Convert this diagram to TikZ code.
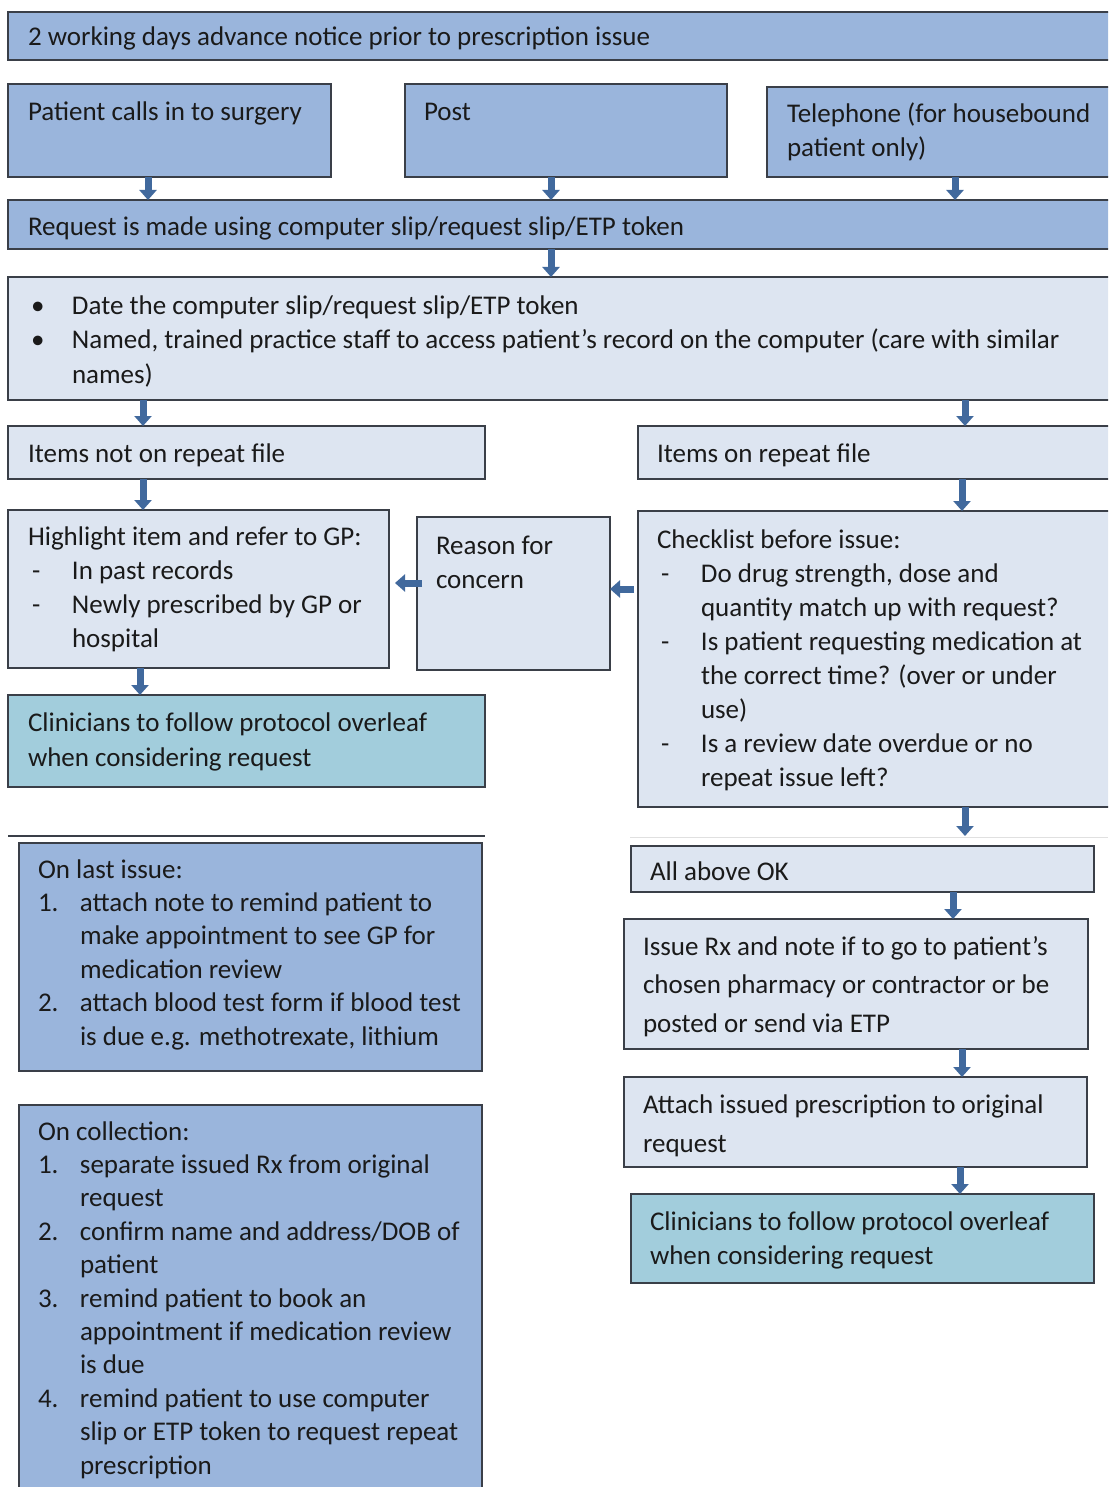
\documentclass[tikz,border=0pt]{standalone}
\usepackage{fontspec}
\setmainfont{Carlito}
\usetikzlibrary{arrows.meta,calc}
\definecolor{boxdark}{HTML}{9AB5DC}
\definecolor{boxlight}{HTML}{DDE5F1}
\definecolor{boxteal}{HTML}{A2CDDC}
\definecolor{bordercol}{HTML}{3A3F48}
\definecolor{textcol}{HTML}{1A1A1A}
\definecolor{arrowcol}{HTML}{41699D}
\newcommand\txtlines[1]{\begin{tabular}[t]{@{}l@{}}#1\end{tabular}}
\newcommand\mk[2]{\makebox[#1][l]{#2}}
\begin{document}
\begin{tikzpicture}[x=1pt,y=-1pt,
  box/.style={draw=bordercol, line width=2pt, anchor=north west, inner sep=0pt, outer sep=0pt},
  dark/.style={box, fill=boxdark},
  light/.style={box, fill=boxlight},
  teal/.style={box, fill=boxteal},
  txt/.style={anchor=base west, inner sep=0pt, outer sep=0pt, text=textcol, font=\fontsize{27}{33.5}\selectfont},
  arr/.style={draw=arrowcol, line width=7pt, -{Triangle[width=17pt,length=10pt]}}]
\useasboundingbox (0,0) rectangle (1108,1487);
\clip (0,0) rectangle (1108,1487);
\fill[white] (0,0) rectangle (1108,1487);

% boxes
\node[dark, minimum width=1112pt, minimum height=48pt] (top) at (8,12) {};
\node[dark, minimum width=323pt, minimum height=93pt] (patient) at (8,84) {};
\node[dark, minimum width=322pt, minimum height=93pt] (post) at (405,84) {};
\node[dark, minimum width=353pt, minimum height=90pt] (tel) at (767,87) {};
\node[dark, minimum width=1112pt, minimum height=49pt] (request) at (8,200) {};
\node[light, minimum width=1112pt, minimum height=123pt] (bullets) at (8,277) {};
\node[light, minimum width=477pt, minimum height=53pt] (notrep) at (8,426) {};
\node[light, minimum width=482pt, minimum height=53pt] (rep) at (638,426) {};
\node[light, minimum width=381pt, minimum height=158pt] (highlight) at (8,510) {};
\node[light, minimum width=193pt, minimum height=153pt] (reason) at (417,517) {};
\node[light, minimum width=482pt, minimum height=296pt] (check) at (638,511) {};
\node[teal, minimum width=477pt, minimum height=92pt] (clinL) at (8,695) {};
\node[dark, minimum width=463pt, minimum height=228pt] (last) at (19,843) {};
\node[dark, minimum width=463pt, minimum height=400pt] (coll) at (19,1105) {};
\node[light, minimum width=463pt, minimum height=46pt] (allok) at (631,846) {};
\node[light, minimum width=464pt, minimum height=130pt] (issue) at (624,919) {};
\node[light, minimum width=463pt, minimum height=90pt] (attach) at (624,1077) {};
\node[teal, minimum width=463pt, minimum height=89pt] (clinR) at (631,1194) {};

% separator lines
\draw[line width=1.5pt, color=bordercol] (8,836) -- (485,836);
\draw[line width=1pt, color=black!12] (630,837) -- (1108,837);

% texts
\node[txt] (ttop) at (28,46) {2 working days advance notice prior to prescription issue};
\node[txt] (tpatient) at (28,121) {Patient calls in to surgery};
\node[txt] (tpost) at (424,121) {Post};
\node[txt] (ttel) at (787,123) {\txtlines{Telephone (for housebound\\patient only)}};
\node[txt] (trequest) at (28,236) {Request is made using computer slip/request slip/ETP token};
\node[txt, font=\fontsize{27}{35}\selectfont] (tbullets) at (28,314) {\txtlines{%
  \mk{44pt}{\hspace{3pt}•}Date the computer slip/request slip/ETP token\\
  \mk{44pt}{\hspace{3pt}•}Named, trained practice staff to access patient’s record on the computer (care with similar\\
  \mk{44pt}{}names)}};
\node[txt] (tnotrep) at (28,462) {Items not on repeat file};
\node[txt] (trep) at (657,462) {Items on repeat file};
\node[txt, font=\fontsize{27}{34.3}\selectfont] (thighlight) at (28,545) {\txtlines{%
  Highlight item and refer to GP:\\
  \mk{44pt}{\hspace{4pt}-}In past records\\
  \mk{44pt}{\hspace{4pt}-}Newly prescribed by GP or\\
  \mk{44pt}{}hospital}};
\node[txt, font=\fontsize{27}{34}\selectfont] (treason) at (436,554) {\txtlines{Reason for\\concern}};
\node[txt, font=\fontsize{27}{34.1}\selectfont] (tcheck) at (657,548) {\txtlines{%
  Checklist before issue:\\
  \mk{44pt}{\hspace{4pt}-}Do drug strength, dose and\\
  \mk{44pt}{}quantity match up with request?\\
  \mk{44pt}{\hspace{4pt}-}Is patient requesting medication at\\
  \mk{44pt}{}the correct time? (over or under\\
  \mk{44pt}{}use)\\
  \mk{44pt}{\hspace{4pt}-}Is a review date overdue or no\\
  \mk{44pt}{}repeat issue left?}};
\node[txt, font=\fontsize{27}{35}\selectfont] (tclinL) at (28,731) {\txtlines{Clinicians to follow protocol overleaf\\when considering request}};
\node[txt, font=\fontsize{27}{33.4}\selectfont] (tlast) at (38,878) {\txtlines{%
  On last issue:\\
  \mk{42pt}{1.}attach note to remind patient to\\
  \mk{42pt}{}make appointment to see GP for\\
  \mk{42pt}{}medication review\\
  \mk{42pt}{2.}attach blood test form if blood test\\
  \mk{42pt}{}is due e.g. methotrexate, lithium}};
\node[txt, font=\fontsize{27}{33.4}\selectfont] (tcoll) at (38,1140) {\txtlines{%
  On collection:\\
  \mk{42pt}{1.}separate issued Rx from original\\
  \mk{42pt}{}request\\
  \mk{42pt}{2.}confirm name and address/DOB of\\
  \mk{42pt}{}patient\\
  \mk{42pt}{3.}remind patient to book an\\
  \mk{42pt}{}appointment if medication review\\
  \mk{42pt}{}is due\\
  \mk{42pt}{4.}remind patient to use computer\\
  \mk{42pt}{}slip or ETP token to request repeat\\
  \mk{42pt}{}prescription}};
\node[txt] (tallok) at (650,880) {All above OK};
\node[txt, font=\fontsize{27}{38.5}\selectfont] (tissue) at (643,955) {\txtlines{%
  Issue Rx and note if to go to patient’s\\
  chosen pharmacy or contractor or be\\
  posted or send via ETP}};
\node[txt, font=\fontsize{27}{39}\selectfont] (tattach) at (643,1113) {\txtlines{Attach issued prescription to original\\request}};
\node[txt, font=\fontsize{27}{34}\selectfont] (tclinR) at (650,1230) {\txtlines{Clinicians to follow protocol overleaf\\when considering request}};

% arrows
\draw[arr] ([xshift=140pt]patient.south west) -- ([xshift=140pt]request.north west);
\draw[arr] ([xshift=146pt]post.south west) -- ([xshift=543pt]request.north west);
\draw[arr] ([xshift=188pt]tel.south west) -- ([xshift=947pt]request.north west);
\draw[arr] ([xshift=543pt]request.south west) -- ([xshift=543pt]bullets.north west);
\draw[arr] ([xshift=135pt]bullets.south west) -- ([xshift=135pt]notrep.north west);
\draw[arr] ([xshift=957pt]bullets.south west) -- ([xshift=327pt]rep.north west);
\draw[arr] ([xshift=135pt]notrep.south west) -- ([xshift=135pt]highlight.north west);
\draw[arr] ([xshift=324pt]rep.south west) -- ([xshift=324pt]check.north west);
\draw[arr] ([xshift=132pt]highlight.south west) -- ([xshift=132pt]clinL.north west);
\draw[arr] ([xshift=5pt,yshift=-66pt]reason.north west) -- ([xshift=6pt,yshift=-73pt]highlight.north east);
\draw[arr] ([xshift=-4pt,yshift=-78pt]check.north west) -- ([yshift=-72pt]reason.north east);
\draw[arr] ([xshift=327pt]check.south west) -- ([xshift=334pt,yshift=10pt]allok.north west);
\draw[arr] ([xshift=322pt]allok.south west) -- ([xshift=329pt]issue.north west);
\draw[arr] ([xshift=338pt]issue.south west) -- ([xshift=338pt]attach.north west);
\draw[arr] ([xshift=336pt]attach.south west) -- ([xshift=329pt]clinR.north west);
\end{tikzpicture}
\end{document}
